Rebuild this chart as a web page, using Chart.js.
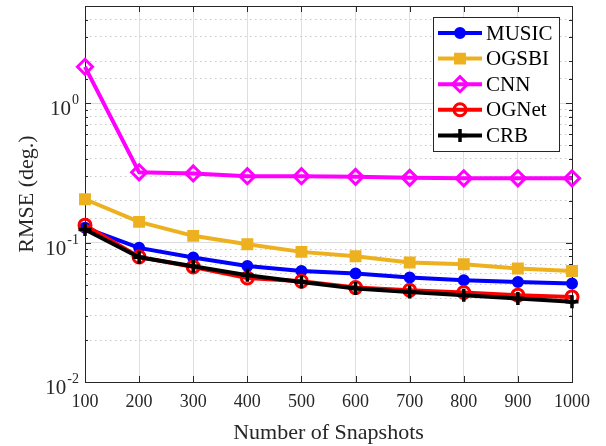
<!DOCTYPE html>
<html><head><meta charset="utf-8">
<script src="https://cdn.jsdelivr.net/npm/chart.js@4/dist/chart.umd.min.js"></script>
<style>html,body{margin:0;padding:0;background:#fff}#wrap{width:606px;height:446px}</style>
</head><body><div id="wrap"><canvas id="c" width="606" height="446"></canvas></div>
<script>
const snapshots = ['100','200','300','400','500','600','700','800','900','1000'];
const music = [0.128, 0.0918, 0.0782, 0.0681, 0.0627, 0.0601, 0.0562, 0.0538, 0.0523, 0.0509];
const ogsbi = [0.205, 0.141, 0.112, 0.0975, 0.0859, 0.0800, 0.0721, 0.0701, 0.0653, 0.0627];
const cnn = [1.83, 0.32, 0.314, 0.300, 0.300, 0.297, 0.292, 0.290, 0.290, 0.290];
const ognet = [0.1336, 0.0790, 0.0670, 0.0558, 0.0529, 0.0476, 0.0456, 0.0439, 0.0420, 0.0408];
const crb = [0.1244, 0.0785, 0.0678, 0.0584, 0.0523, 0.0469, 0.0443, 0.0420, 0.0397, 0.0376];
const seriesNames = ['MUSIC','OGSBI','CNN','OGNet','CRB'];
const yDecades = [0.01, 0.1, 1];
const yDecadeExponents = ['-2','-1','0'];
const yMin = 0.01, yMax = 5;

const FONT = "'Liberation Serif', 'Times New Roman', serif";
const styles = [
  {color:'#0000FF', pointStyle:'circle', radius:5, bw:2, fill:'#0000FF'},
  {color:'#EDB120', pointStyle:'rect', radius:7, bw:2, fill:'#EDB120'},
  {color:'#FF00FF', pointStyle:'rectRot', radius:7.5, bw:3, fill:'rgba(0,0,0,0)'},
  {color:'#FF0000', pointStyle:'circle', radius:6, bw:3, fill:'rgba(0,0,0,0)'},
  {color:'#000000', pointStyle:'cross', radius:6.5, bw:3.5, fill:'#000000'}
];
const seriesData = [music, ogsbi, cnn, ognet, crb];

const datasets = seriesData.map((d, i) => ({
  label: seriesNames[i], data: d,
  borderColor: styles[i].color, backgroundColor: styles[i].fill,
  borderWidth: 4, pointStyle: styles[i].pointStyle,
  pointRadius: styles[i].radius, pointBorderWidth: styles[i].bw,
  pointBorderColor: styles[i].color, pointBackgroundColor: styles[i].fill,
  tension: 0, clip: false, order: 5 - i
}));

function isDecade(v){ const l = Math.log10(v); return Math.abs(l - Math.round(l)) < 1e-6; }

const framePlugin = {
  id: 'frame',
  beforeDatasetsDraw(chart){
    const {ctx, chartArea: a, scales} = chart;
    ctx.save();
    ctx.strokeStyle = '#262626'; ctx.lineWidth = 1;
    ctx.strokeRect(Math.round(a.left)+0.5, Math.round(a.top)+0.5, Math.round(a.right-a.left), Math.round(a.bottom-a.top));
    scales.x.ticks.forEach((t, i) => {
      const x = Math.round(scales.x.getPixelForTick(i)) + 0.5;
      ctx.beginPath();
      ctx.moveTo(x, a.bottom); ctx.lineTo(x, a.bottom - 6);
      ctx.moveTo(x, a.top); ctx.lineTo(x, a.top + 6);
      ctx.stroke();
    });
    scales.y.ticks.forEach(t => {
      const y = Math.round(scales.y.getPixelForValue(t.value)) + 0.5;
      const len = isDecade(t.value) ? 6 : 3;
      ctx.beginPath();
      ctx.moveTo(a.left, y); ctx.lineTo(a.left + len, y);
      ctx.moveTo(a.right, y); ctx.lineTo(a.right - len, y);
      ctx.stroke();
    });
    ctx.restore();
  },
  afterDraw(chart){
    const {ctx, scales} = chart;
    ctx.save();
    ctx.fillStyle = '#262626';
    yDecades.forEach((v, i) => {
      const y = scales.y.getPixelForValue(v);
      ctx.font = '14px ' + FONT;
      const supW = ctx.measureText(yDecadeExponents[i]).width;
      const right = 79;
      ctx.textAlign = 'left'; ctx.textBaseline = 'alphabetic';
      ctx.fillText(yDecadeExponents[i], right - supW, y + 1);
      ctx.font = '21px ' + FONT;
      ctx.textAlign = 'right';
      ctx.fillText('10', right - supW - 1, y + 12);
    });
    const bx = 433.5, by = 17.5, bw = 126, bh = 134;
    ctx.fillStyle = '#ffffff';
    ctx.fillRect(bx, by, bw, bh);
    ctx.strokeStyle = '#262626'; ctx.lineWidth = 1;
    ctx.strokeRect(bx, by, bw, bh);
    seriesNames.forEach((name, i) => {
      const cy = 33 + i * 25.6;
      const s = styles[i];
      ctx.strokeStyle = s.color; ctx.lineWidth = 4;
      ctx.beginPath(); ctx.moveTo(438, cy); ctx.lineTo(482, cy); ctx.stroke();
      ctx.fillStyle = s.fill; ctx.strokeStyle = s.color; ctx.lineWidth = s.bw;
      Chart.helpers.drawPoint(ctx, {
        pointStyle: s.pointStyle, radius: s.radius, borderWidth: s.bw, rotation: 0
      }, 460, cy);
      ctx.fillStyle = '#000000';
      ctx.font = '21px ' + FONT;
      ctx.textAlign = 'left'; ctx.textBaseline = 'middle';
      ctx.fillText(name, 486, cy + 1);
    });
    ctx.restore();
  }
};

new Chart(document.getElementById('c'), {
  type: 'line',
  data: { labels: snapshots, datasets },
  options: {
    responsive: false, animation: false, devicePixelRatio: 1,
    layout: { autoPadding: false, padding: { left: 0, top: 6, right: 34, bottom: 0 } },
    plugins: { legend: { display: false }, tooltip: { enabled: false } },
    scales: {
      x: {
        type: 'category', offset: false,
        grid: { color: '#dedede', lineWidth: 1, drawTicks: false },
        border: { display: false },
        ticks: { color: '#262626', font: { family: FONT, size: 18 }, padding: 9, maxRotation: 0, autoSkip: false },
        title: { display: true, text: 'Number of Snapshots', color: '#262626', font: { family: FONT, size: 22 }, padding: { top: 0, bottom: 0 } },
        afterFit(s){ s.height = 64; }
      },
      y: {
        type: 'logarithmic', min: yMin, max: yMax,
        grid: {
          drawTicks: false,
          color: (c) => (c.tick && isDecade(c.tick.value)) ? '#dcdcdc' : '#c8c8c8',
          lineWidth: 1
        },
        border: {
          display: false,
          dash: (c) => (c.tick && !isDecade(c.tick.value)) ? [1.5, 3.5] : []
        },
        ticks: { display: false, autoSkip: false },
        title: { display: true, text: 'RMSE (deg.)', color: '#262626', font: { family: FONT, size: 22 }, padding: { top: 14, bottom: 0 } },
        afterFit(s){ s.width = 85; }
      }
    }
  },
  plugins: [framePlugin]
});
</script>
</body></html>
